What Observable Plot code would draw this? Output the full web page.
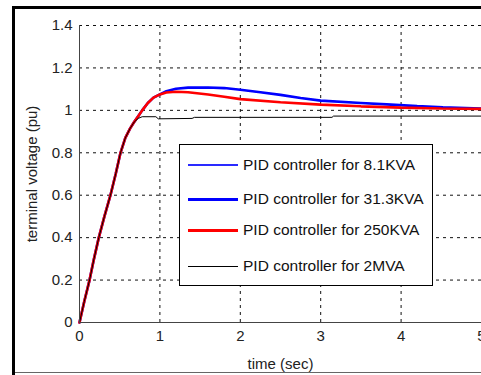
<!DOCTYPE html>
<html><head><meta charset="utf-8">
<script src="https://cdn.jsdelivr.net/npm/d3@7"></script>
<script src="https://cdn.jsdelivr.net/npm/@observablehq/plot@0.6"></script>
<style>
body{margin:0;background:#fff;}
#wrap{position:relative;width:481px;height:375px;overflow:hidden;background:#fff;font-family:"Liberation Sans",Arial,sans-serif;}
.bar{position:absolute;background:#000;}
#legend{position:absolute;left:179px;top:144px;width:252px;height:140px;border:1px solid #000;background:#fff;box-sizing:content-box;}
.sw{position:absolute;left:8px;width:50px;}
.lt{position:absolute;left:63px;font-size:15.5px;color:#111;white-space:nowrap;line-height:20px;}
</style></head><body><div id="wrap"></div>
<script>
// shared rise
const riseT = [0, 0.06, 0.125, 0.18, 0.24, 0.31, 0.385, 0.45, 0.51, 0.57, 0.63, 0.68];
const riseV = [0, 0.1, 0.2, 0.3, 0.4, 0.5, 0.6, 0.7, 0.8, 0.87, 0.915, 0.945];

const redT = [0.73, 0.78, 0.85, 0.92, 1.0, 1.08, 1.2, 1.35, 1.6, 1.8, 2.0, 2.5, 3.0, 3.5, 4.0, 4.5, 5.0];
const redV = [0.972, 1.0, 1.035, 1.06, 1.075, 1.084, 1.088, 1.085, 1.075, 1.064, 1.053, 1.038, 1.027, 1.019, 1.013, 1.009, 1.007];

const blueT = [0.73, 0.78, 0.85, 0.92, 1.0, 1.08, 1.2, 1.35, 1.6, 1.8, 2.0, 2.25, 2.5, 2.75, 3.0, 3.5, 3.82, 4.2, 4.52, 5.0];
const blueV = [0.972, 1.0, 1.035, 1.06, 1.075, 1.09, 1.102, 1.107, 1.108, 1.105, 1.097, 1.085, 1.073, 1.058, 1.046, 1.035, 1.028, 1.02, 1.014, 1.008];

const blackT = [0.73, 0.78, 0.95, 0.98, 1.40, 1.43, 3.14, 3.16, 5.0];
const blackV = [0.962, 0.97, 0.97, 0.96, 0.962, 0.967, 0.967, 0.973, 0.973];

const seriesNames = ["PID controller for 8.1KVA", "PID controller for 31.3KVA", "PID controller for 250KVA", "PID controller for 2MVA"];
const seriesColors = ["#0000ff", "#0000ff", "#ff0000", "#000000"];
const seriesWidths = [1, 2.6, 2.6, 1];
const swatchColors = ["#2a2aff", "#0000ff", "#ff0000", "#000000"];

const xTicks = [0, 1, 2, 3, 4, 5];
const yTicks = [0, 0.2, 0.4, 0.6, 0.8, 1, 1.2, 1.4];
const xLabel = "time (sec)";
const yLabel = "terminal voltage (pu)";

function build(tt, vv) {
  const ts = riseT.concat(tt), vs = riseV.concat(vv);
  return ts.map((t, i) => ({t, v: vs[i]}));
}
const seriesData = [build(blueT, blueV), build(blueT, blueV), build(redT, redV), build(blackT, blackV)];

const dash = "3,4";
const plot = Plot.plot({
  width: 481, height: 375,
  marginLeft: 79, marginRight: 0, marginTop: 25, marginBottom: 53,
  style: {fontFamily: '"Liberation Sans", Arial, sans-serif', fontSize: "15px", color: "#222", background: "#fff"},
  x: {domain: [0, 5], ticks: xTicks},
  y: {domain: [0, 1.4], ticks: yTicks},
  marks: [
    Plot.ruleX(xTicks.filter(d => d > 0), {stroke: "#111", strokeDasharray: dash, strokeWidth: 1}),
    Plot.ruleY(yTicks.filter(d => d > 0), {stroke: "#111", strokeDasharray: dash, strokeWidth: 1}),
    ...seriesData.map((d, i) => Plot.line(d, {x: "t", y: "v", stroke: seriesColors[i], strokeWidth: seriesWidths[i], strokeLinejoin: "miter"})),
    Plot.ruleX([0], {stroke: "#444", strokeWidth: 1}),
    Plot.ruleY([0], {stroke: "#444", strokeWidth: 1}),
    Plot.axisX({ticks: xTicks, tickSize: 0, tickPadding: 8, tickFormat: d => String(d), fontSize: 15, label: xLabel, labelAnchor: "center", labelArrow: "none", labelOffset: 46}),
    Plot.axisY({ticks: yTicks, tickSize: 0, tickPadding: 7, tickFormat: d => String(d), fontSize: 15, label: yLabel, labelAnchor: "center", labelArrow: "none", labelOffset: 53})
  ]
});
const wrap = document.getElementById("wrap");
wrap.appendChild(plot);

// outer frame decoration
function bar(l, t, w, h, c) { const b = document.createElement("div"); b.className = "bar"; b.style.cssText = `left:${l}px;top:${t}px;width:${w}px;height:${h}px;background:${c}`; wrap.appendChild(b); }
bar(12, 6, 469, 3, "#000");
bar(12, 6, 3, 369, "#000");
bar(15, 372, 466, 1, "#666");

// legend
const leg = document.createElement("div"); leg.id = "legend";
const rowsY = [10, 44, 75, 111];
const swH = [2, 3, 3, 1];
seriesNames.forEach((name, i) => {
  const sw = document.createElement("div"); sw.className = "sw";
  const h = swH[i];
  sw.style.top = Math.round(rowsY[i] + 10 - h / 2) + "px";
  sw.style.height = h + "px";
  sw.style.backgroundColor = swatchColors[i];
  leg.appendChild(sw);
  const tx = document.createElement("div"); tx.className = "lt";
  tx.style.top = rowsY[i] + "px"; tx.textContent = name;
  leg.appendChild(tx);
});
wrap.appendChild(leg);
</script></body></html>
